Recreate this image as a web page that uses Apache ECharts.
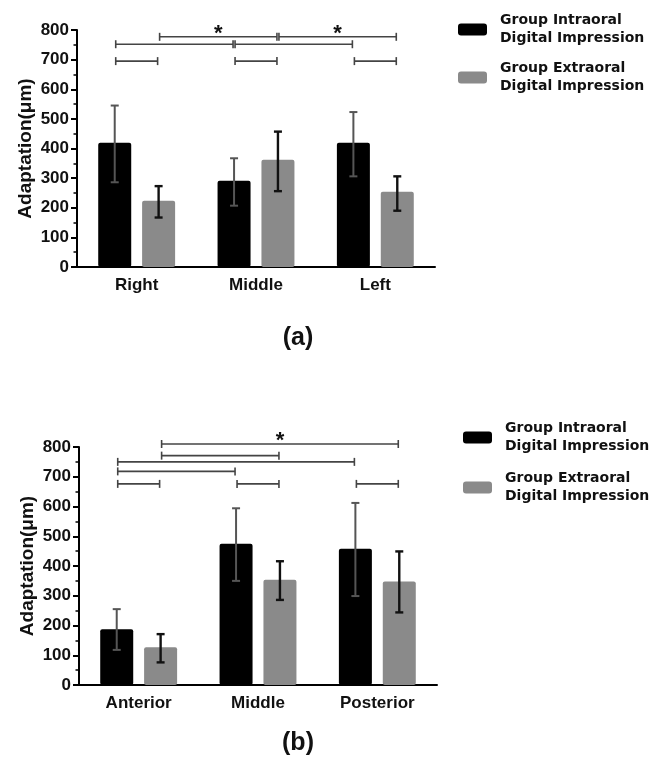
<!DOCTYPE html>
<html>
<head>
<meta charset="utf-8">
<script src="https://cdn.jsdelivr.net/npm/echarts@6/dist/echarts.min.js"></script>
<style>html,body{margin:0;padding:0;background:#fff;}#c{width:654px;height:760px;}</style>
</head>
<body>
<div id="c"></div>
<script>
// ---- data ----
const seriesNames = ['Group Intraoral Digital Impression', 'Group Extraoral Digital Impression'];
const yTickMin = 0, yTickMax = 800, yTickStep = 100;

// panel (a)
const catsA = ['Right', 'Middle', 'Left'];
const intraA = [419, 291, 419];
const intraALow = [286, 207, 306];
const intraAHigh = [545, 367, 523];
const extraA = [224, 362, 254];
const extraALow = [167, 256, 190];
const extraAHigh = [273, 457, 306];
// brackets: [cat1, group1, cat2, group2, level, significant]
const bracketsA = [
  [0, 0, 0, 1, 695, 0], [1, 0, 1, 1, 695, 0], [2, 0, 2, 1, 695, 0],
  [0, 0, 1, 0, 752, 0], [1, 0, 2, 0, 752, 0],
  [0, 1, 1, 1, 777, 1], [1, 1, 2, 1, 777, 1]
];

// panel (b)
const catsB = ['Anterior', 'Middle', 'Posterior'];
const intraB = [187, 475, 458];
const intraBLow = [118, 350, 299];
const intraBHigh = [255, 594, 612];
const extraB = [127, 354, 348];
const extraBLow = [76, 286, 244];
const extraBHigh = [171, 416, 449];
const bracketsB = [
  [0, 0, 0, 1, 676, 0], [1, 0, 1, 1, 676, 0], [2, 0, 2, 1, 676, 0],
  [0, 0, 1, 0, 718, 0],
  [0, 0, 2, 0, 750, 0],
  [0, 1, 1, 1, 771, 0],
  [0, 1, 2, 1, 810, 1]
];
const panelLabels = ['(a)', '(b)'];

// ---- style ----
const FONT = '"Liberation Sans", Arial, Helvetica, sans-serif';
const LEGEND_FONT = '"DejaVu Sans", "Liberation Sans", Arial, sans-serif';
const BAR_W = 33;
const BAR_GAP = 0.33;
const OFF = (BAR_W + BAR_W * BAR_GAP) / 2;
const C_INTRA = '#000000';
const C_EXTRA = '#8a8a8a';

function errData(low, high, group) {
  return low.map((l, i) => [i, group, l, high[i]]);
}

function renderErr(params, api) {
  const cat = api.value(0), g = api.value(1);
  const pL = api.coord([cat, api.value(2)]);
  const pH = api.coord([cat, api.value(3)]);
  const x = pL[0] + (g === 0 ? -OFF : OFF);
  const col = g === 0 ? '#555555' : '#111111';
  const w = g === 0 ? 2 : 2.4;
  const cap = 4;
  const st = { stroke: col, lineWidth: w };
  return {
    type: 'group',
    children: [
      { type: 'line', shape: { x1: x, y1: pL[1], x2: x, y2: pH[1] }, style: st },
      { type: 'line', shape: { x1: x - cap, y1: pL[1], x2: x + cap, y2: pL[1] }, style: st },
      { type: 'line', shape: { x1: x - cap, y1: pH[1], x2: x + cap, y2: pH[1] }, style: st }
    ]
  };
}

function renderBracket(params, api) {
  const lvl = api.value(4);
  const p1 = api.coord([api.value(0), lvl]);
  const p2 = api.coord([api.value(2), lvl]);
  const x1 = p1[0] + (api.value(1) === 0 ? -OFF : OFF) + 1;
  const x2 = p2[0] + (api.value(3) === 0 ? -OFF : OFF) - 1;
  const y = p1[1];
  const st = { stroke: '#444444', lineWidth: 1.6 };
  const ch = [
    { type: 'line', shape: { x1: x1, y1: y, x2: x2, y2: y }, style: st },
    { type: 'line', shape: { x1: x1, y1: y - 4, x2: x1, y2: y + 4 }, style: st },
    { type: 'line', shape: { x1: x2, y1: y - 4, x2: x2, y2: y + 4 }, style: st }
  ];
  if (api.value(5)) {
    ch.push({ type: 'text', style: { text: '*', x: (x1 + x2) / 2, y: y - 3, textAlign: 'center', textVerticalAlign: 'middle', font: 'bold 22px ' + FONT, fill: '#111' } });
  }
  return { type: 'group', children: ch };
}

function xAxisCfg(cats, gi) {
  return {
    type: 'category', gridIndex: gi, data: cats,
    axisLine: { lineStyle: { color: '#000', width: 2 } },
    axisTick: { alignWithLabel: true, length: 7, lineStyle: { color: '#000', width: 2 } },
    axisLabel: { fontSize: 17, fontWeight: 'bold', color: '#111', fontFamily: FONT, margin: 10 }
  };
}
function yAxisCfg(gi) {
  return {
    type: 'value', gridIndex: gi, min: yTickMin, max: yTickMax, interval: yTickStep,
    name: 'Adaptation(μm)', nameLocation: 'middle', nameGap: 42, nameMoveOverlap: false,
    nameTextStyle: { fontSize: 19, fontWeight: 'bold', color: '#111', fontFamily: FONT },
    axisLine: { show: true, lineStyle: { color: '#000', width: 2 } },
    axisTick: { show: true, length: 6, lineStyle: { color: '#000', width: 2 } },
    minorTick: { show: true, splitNumber: 2, length: 3.5, lineStyle: { color: '#000', width: 1.5 } },
    splitLine: { show: false },
    axisLabel: { fontSize: 17, fontWeight: 'bold', color: '#111', fontFamily: FONT, margin: 8 }
  };
}
function barCfg(name, data, gi, color) {
  return {
    type: 'bar', name: name, xAxisIndex: gi, yAxisIndex: gi, data: data,
    barWidth: BAR_W, barGap: (BAR_GAP * 100) + '%',
    itemStyle: { color: color, borderRadius: 2 },
    animation: false
  };
}
function legendCfg(left, top, gap) {
  return {
    data: seriesNames, left: left, top: top, orient: 'vertical',
    icon: 'roundRect', itemWidth: 29, itemHeight: 12, itemGap: gap,
    selectedMode: false,
    formatter: n => n.replace(' Digital', '\nDigital'),
    textStyle: { fontSize: 14, fontWeight: 'bold', color: '#111', fontFamily: LEGEND_FONT, lineHeight: 18, padding: [5, 0, 0, 8] }
  };
}

const chart = echarts.init(document.getElementById('c'), null, { renderer: 'canvas' });
chart.setOption({
  animation: false,
  backgroundColor: '#fff',
  textStyle: { fontFamily: FONT },
  grid: [
    { left: 77, top: 30, width: 358, height: 237, containLabel: false, outerBoundsMode: 'none' },
    { left: 79, top: 447, width: 358, height: 238, containLabel: false, outerBoundsMode: 'none' }
  ],
  xAxis: [xAxisCfg(catsA, 0), xAxisCfg(catsB, 1)],
  yAxis: [yAxisCfg(0), yAxisCfg(1)],
  legend: [legendCfg(453, 4, 7), legendCfg(458, 412, 9)],
  graphic: [
    { type: 'text', x: 298, y: 338, style: { text: panelLabels[0], font: 'bold 25px ' + FONT, fill: '#111', textAlign: 'center', textVerticalAlign: 'middle' } },
    { type: 'text', x: 298, y: 743, style: { text: panelLabels[1], font: 'bold 25px ' + FONT, fill: '#111', textAlign: 'center', textVerticalAlign: 'middle' } }
  ],
  series: [
    barCfg(seriesNames[0], intraA, 0, C_INTRA),
    barCfg(seriesNames[1], extraA, 0, C_EXTRA),
    barCfg(seriesNames[0], intraB, 1, C_INTRA),
    barCfg(seriesNames[1], extraB, 1, C_EXTRA),
    { type: 'custom', xAxisIndex: 0, yAxisIndex: 0, renderItem: renderErr, z: 5,
      data: errData(intraALow, intraAHigh, 0).concat(errData(extraALow, extraAHigh, 1)), encode: { x: 0, y: [2, 3] } },
    { type: 'custom', xAxisIndex: 1, yAxisIndex: 1, renderItem: renderErr, z: 5,
      data: errData(intraBLow, intraBHigh, 0).concat(errData(extraBLow, extraBHigh, 1)), encode: { x: 0, y: [2, 3] } },
    { type: 'custom', xAxisIndex: 0, yAxisIndex: 0, renderItem: renderBracket, z: 5, clip: false,
      data: bracketsA, encode: { x: [0, 2], y: 4 } },
    { type: 'custom', xAxisIndex: 1, yAxisIndex: 1, renderItem: renderBracket, z: 5, clip: false,
      data: bracketsB, encode: { x: [0, 2], y: 4 } }
  ]
});
</script>
</body>
</html>
